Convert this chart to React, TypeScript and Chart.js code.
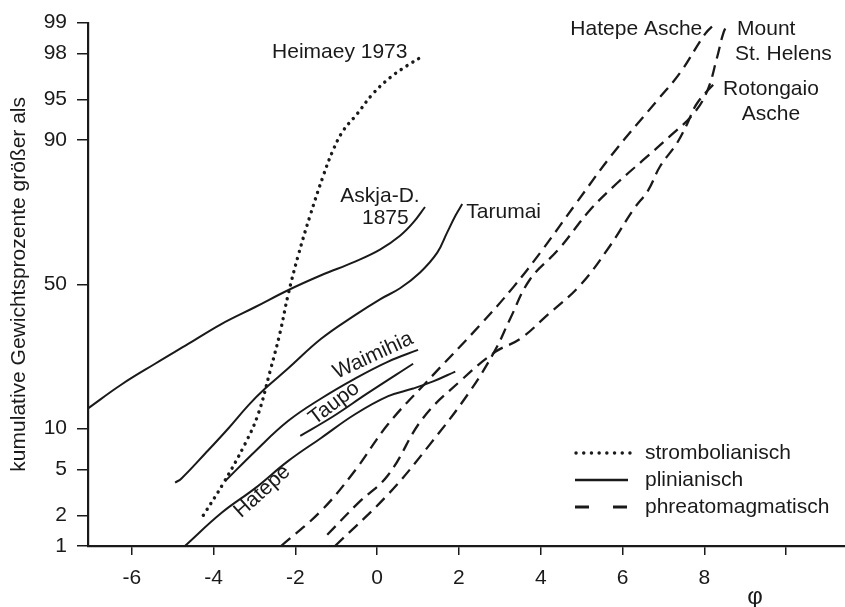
import { useEffect, useRef } from 'react';
import { Chart, registerables } from 'chart.js';

Chart.register(...registerables);

const FONT = '"Liberation Sans", Arial, Helvetica, sans-serif';
const INK = '#1a1a1a';

// Axes: grain size φ and cumulative weight percent on a probability scale
const xTicks = [-6, -4, -2, 0, 2, 4, 6, 8, 10];
const xTickLabels = ['-6', '-4', '-2', '0', '2', '4', '6', '8', ''];
const yTickPercents = [1, 2, 5, 10, 50, 90, 95, 98, 99];

// Strombolian
const heimaeyPhi = [-4.25, -3.77, -3.23, -2.91, -2.62, -2.37, -2.18, -1.93, -1.64, -1.32, -1.08, -0.83, -0.49, -0.1, 0.32, 0.73, 1.05];
const heimaeyPct = [2.0, 3.8, 7.8, 12.4, 21.9, 33.6, 46.1, 60.1, 72.9, 83.2, 88.3, 91.4, 93.5, 95.5, 96.7, 97.4, 97.8];

// Plinian
const askjaPhi = [-7.07, -6.26, -5.43, -4.62, -3.81, -2.98, -2.18, -1.37, -0.54, 0.07, 0.56, 0.88, 1.17];
const askjaPct = [13.5, 18.6, 24.0, 29.8, 36.2, 42.0, 47.9, 53.2, 58.0, 62.1, 66.7, 70.8, 75.4];

const tarumaiPhi = [-4.94, -4.79, -4.21, -3.64, -3.15, -2.74, -2.18, -1.37, -0.54, 0.07, 0.56, 1.05, 1.47, 1.71, 1.91, 2.08];
const tarumaiPct = [3.9, 4.2, 6.6, 10.0, 14.1, 17.7, 22.7, 31.4, 39.2, 44.7, 48.6, 54.2, 61.1, 67.7, 72.8, 76.2];

const waimihiaPhi = [-3.72, -2.98, -2.18, -1.37, -0.54, 0.27, 1.0];
const waimihiaPct = [4.0, 6.9, 11.2, 15.5, 20.1, 24.6, 28.0];

const taupoPhi = [-1.88, -1.08, -0.24, 0.88];
const taupoPct = [8.9, 12.0, 16.6, 24.0];

const hatepePhi = [-4.7, -3.81, -2.98, -2.18, -1.37, -0.54, 0.27, 0.88, 1.37, 1.91];
const hatepePct = [1.0, 2.1, 3.5, 5.8, 8.6, 12.4, 16.0, 17.7, 19.4, 21.9];

// Phreatomagmatic
const hatepeAschePhi = [-2.35, -1.37, -0.54, 0.27, 1.22, 2.52, 3.33, 3.99, 4.87, 5.77, 6.85, 7.41, 8.02, 8.29];
const hatepeAschePct = [1.0, 2.2, 4.9, 10.7, 19.4, 35.9, 49.0, 61.1, 76.5, 87.8, 94.9, 97.0, 98.7, 99.0];

const stHelensPhi = [-1.03, 0.27, 1.3, 2.27, 2.89, 3.25, 3.74, 4.43, 5.21, 5.87, 6.5, 7.16, 7.73, 8.07, 8.31, 8.46, 8.58];
const stHelensPct = [1.0, 3.1, 7.8, 17.1, 28.0, 37.9, 51.8, 62.1, 74.6, 81.6, 86.5, 90.6, 93.5, 95.7, 97.8, 98.7, 99.0];

const rotongaioPhi = [-1.22, -0.46, 0.27, 1.12, 2.1, 2.89, 3.5, 4.16, 4.96, 5.7, 6.26, 6.63, 6.92, 7.33, 7.58, 7.82, 8.31];
const rotongaioPct = [1.3, 2.6, 4.5, 11.7, 20.1, 27.4, 31.4, 39.2, 49.6, 63.5, 74.6, 79.9, 85.3, 89.5, 92.3, 94.6, 96.5];

// Inverse of the standard normal distribution (Acklam's rational approximation)
function probit(p: number): number {
  const a = [-39.69683028665376, 220.9460984245205, -275.9285104469687, 138.357751867269, -30.66479806614716, 2.506628277459239];
  const b = [-54.47609879822406, 161.5858368580409, -155.6989798598866, 66.80131188771972, -13.28068155288572];
  const c = [-0.007784894002430293, -0.3223964580411365, -2.400758277161838, -2.549671292381350, 4.374664141464968, 2.938163982698783];
  const d = [0.007784695709041462, 0.3224671290700398, 2.445134137142996, 3.754408661907416];
  const pl = 0.02425;
  if (p < pl) {
    const q = Math.sqrt(-2 * Math.log(p));
    return (((((c[0] * q + c[1]) * q + c[2]) * q + c[3]) * q + c[4]) * q + c[5]) / ((((d[0] * q + d[1]) * q + d[2]) * q + d[3]) * q + 1);
  }
  if (p <= 1 - pl) {
    const q = p - 0.5;
    const r = q * q;
    return ((((((a[0] * r + a[1]) * r + a[2]) * r + a[3]) * r + a[4]) * r + a[5]) * q) / (((((b[0] * r + b[1]) * r + b[2]) * r + b[3]) * r + b[4]) * r + 1);
  }
  const q = Math.sqrt(-2 * Math.log(1 - p));
  return -(((((c[0] * q + c[1]) * q + c[2]) * q + c[3]) * q + c[4]) * q + c[5]) / ((((d[0] * q + d[1]) * q + d[2]) * q + d[3]) * q + 1);
}

type LineKind = 'dotted' | 'solid' | 'dashed';

const series: { label: string; phi: number[]; pct: number[]; kind: LineKind }[] = [
  { label: 'Heimaey 1973', phi: heimaeyPhi, pct: heimaeyPct, kind: 'dotted' },
  { label: 'Askja-D. 1875', phi: askjaPhi, pct: askjaPct, kind: 'solid' },
  { label: 'Tarumai', phi: tarumaiPhi, pct: tarumaiPct, kind: 'solid' },
  { label: 'Waimihia', phi: waimihiaPhi, pct: waimihiaPct, kind: 'solid' },
  { label: 'Taupo', phi: taupoPhi, pct: taupoPct, kind: 'solid' },
  { label: 'Hatepe', phi: hatepePhi, pct: hatepePct, kind: 'solid' },
  { label: 'Hatepe Asche', phi: hatepeAschePhi, pct: hatepeAschePct, kind: 'dashed' },
  { label: 'Mount St. Helens', phi: stHelensPhi, pct: stHelensPct, kind: 'dashed' },
  { label: 'Rotongaio Asche', phi: rotongaioPhi, pct: rotongaioPct, kind: 'dashed' },
];

const lineStyles: Record<LineKind, any> = {
  dotted: { borderWidth: 3.4, borderDash: [0.1, 6.8], borderCapStyle: 'round' },
  solid: { borderWidth: 2, borderDash: [], borderCapStyle: 'butt' },
  dashed: { borderWidth: 2.3, borderDash: [12, 7], borderCapStyle: 'butt' },
};

// Curve names, placed in data coordinates (φ, percent)
const curveLabels: { text: string; phi: number; pct: number; align: CanvasTextAlign; angle: number }[] = [
  { text: 'Heimaey 1973', phi: -2.57, pct: 98.06, align: 'left', angle: 0 },
  { text: 'Askja-D.', phi: 0.07, pct: 78.4, align: 'center', angle: 0 },
  { text: '1875', phi: 0.2, pct: 72.3, align: 'center', angle: 0 },
  { text: 'Tarumai', phi: 2.18, pct: 73.8, align: 'left', angle: 0 },
  { text: 'Waimihia', phi: -0.1, pct: 26.3, align: 'center', angle: -25 },
  { text: 'Taupo', phi: -1.05, pct: 14.5, align: 'center', angle: -37 },
  { text: 'Hatepe', phi: -2.81, pct: 3.27, align: 'center', angle: -42 },
  { text: 'Hatepe Asche', phi: 7.95, pct: 98.84, align: 'right', angle: 0 },
  { text: 'Mount', phi: 8.8, pct: 98.84, align: 'left', angle: 0 },
  { text: 'St. Helens', phi: 8.75, pct: 97.97, align: 'left', angle: 0 },
  { text: 'Rotongaio', phi: 9.63, pct: 95.83, align: 'center', angle: 0 },
  { text: 'Asche', phi: 9.63, pct: 93.45, align: 'center', angle: 0 },
];

const legendRows: { text: string; kind: LineKind }[] = [
  { text: 'strombolianisch', kind: 'dotted' },
  { text: 'plinianisch', kind: 'solid' },
  { text: 'phreatomagmatisch', kind: 'dashed' },
];

const annotatePlugin = {
  id: 'annotate',
  afterDatasetsDraw(chart: any) {
    const { ctx, scales } = chart;
    const xs = scales.x;
    const ys = scales.y;
    ctx.save();
    ctx.fillStyle = INK;
    ctx.strokeStyle = INK;
    ctx.font = `21px ${FONT}`;
    ctx.textBaseline = 'middle';

    for (const l of curveLabels) {
      const px = xs.getPixelForValue(l.phi);
      const py = ys.getPixelForValue(probit(l.pct / 100));
      ctx.save();
      ctx.translate(px, py);
      ctx.rotate((l.angle * Math.PI) / 180);
      ctx.textAlign = l.align;
      ctx.fillText(l.text, 0, 0);
      ctx.restore();
    }

    // Legend
    const lx = 575;
    const ly = 453;
    const gap = 27;
    legendRows.forEach((row, i) => {
      const y = ly + i * gap;
      ctx.save();
      ctx.beginPath();
      if (row.kind === 'dotted') {
        ctx.lineWidth = 3.4;
        ctx.lineCap = 'round';
        ctx.setLineDash([0.1, 7.6]);
        ctx.moveTo(lx + 1, y);
        ctx.lineTo(lx + 57, y);
      } else if (row.kind === 'solid') {
        ctx.lineWidth = 2.6;
        ctx.setLineDash([]);
        ctx.moveTo(lx, y);
        ctx.lineTo(lx + 53, y);
      } else {
        ctx.lineWidth = 3;
        ctx.setLineDash([14, 24]);
        ctx.moveTo(lx, y);
        ctx.lineTo(lx + 53, y);
      }
      ctx.stroke();
      ctx.restore();
      ctx.textAlign = 'left';
      ctx.fillText(row.text, 645, y);
    });

    // Axis symbol
    ctx.font = `24px ${FONT}`;
    ctx.textAlign = 'center';
    ctx.fillText('φ', xs.getPixelForValue(9.24), 597);
    ctx.restore();
  },
};

export default function App() {
  const canvasRef = useRef<HTMLCanvasElement>(null);

  useEffect(() => {
    const canvas = canvasRef.current;
    if (!canvas) return;

    const datasets = series.map((s) => ({
      label: s.label,
      data: s.phi.map((x, i) => ({ x, y: probit(s.pct[i] / 100) })),
      borderColor: INK,
      backgroundColor: INK,
      pointRadius: 0,
      fill: false,
      tension: 0.4,
      clip: 4,
      ...lineStyles[s.kind],
    }));

    const tickFont = { family: FONT, size: 21 };

    const chart = new Chart(canvas, {
      type: 'line',
      data: { datasets },
      options: {
        responsive: false,
        animation: false,
        events: [],
        layout: { padding: { top: 18, right: 0, bottom: 0, left: 0 }, autoPadding: false },
        plugins: { legend: { display: false }, tooltip: { enabled: false } },
        scales: {
          x: {
            type: 'linear',
            min: -7.07,
            max: 11.44,
            afterBuildTicks: (s: any) => {
              s.ticks = xTicks.map((v) => ({ value: v }));
            },
            afterFit: (s: any) => {
              s.height = 61;
            },
            ticks: {
              callback: (_v: any, i: number) => xTickLabels[i],
              font: tickFont,
              color: INK,
              padding: 11,
              maxRotation: 0,
              autoSkip: false,
            },
            grid: { drawOnChartArea: false, drawTicks: true, tickLength: 9, color: INK, lineWidth: 1.5 },
            border: { display: true, color: INK, width: 2.2 },
          },
          y: {
            type: 'linear',
            min: probit(0.01),
            max: probit(0.99),
            afterBuildTicks: (s: any) => {
              s.ticks = yTickPercents.map((p) => ({ value: probit(p / 100) }));
            },
            afterFit: (s: any) => {
              s.width = 88;
            },
            ticks: {
              callback: (_v: any, i: number) => String(yTickPercents[i]),
              font: tickFont,
              color: INK,
              padding: 10,
              autoSkip: false,
            },
            grid: { drawOnChartArea: false, drawTicks: true, tickLength: 11, color: INK, lineWidth: 1.5 },
            border: { display: true, color: INK, width: 2.2 },
            title: {
              display: true,
              text: 'kumulative Gewichtsprozente größer als',
              font: { family: FONT, size: 21 },
              color: INK,
              padding: { top: 7, bottom: 0 },
            },
          },
        },
      },
      plugins: [annotatePlugin],
    } as any);

    return () => chart.destroy();
  }, []);

  return (
    <div style={{ position: 'absolute', left: 0, top: 0, width: 845, height: 607, background: '#ffffff' }}>
      <canvas ref={canvasRef} width={845} height={607} style={{ display: 'block', width: 845, height: 607 }} />
    </div>
  );
}
